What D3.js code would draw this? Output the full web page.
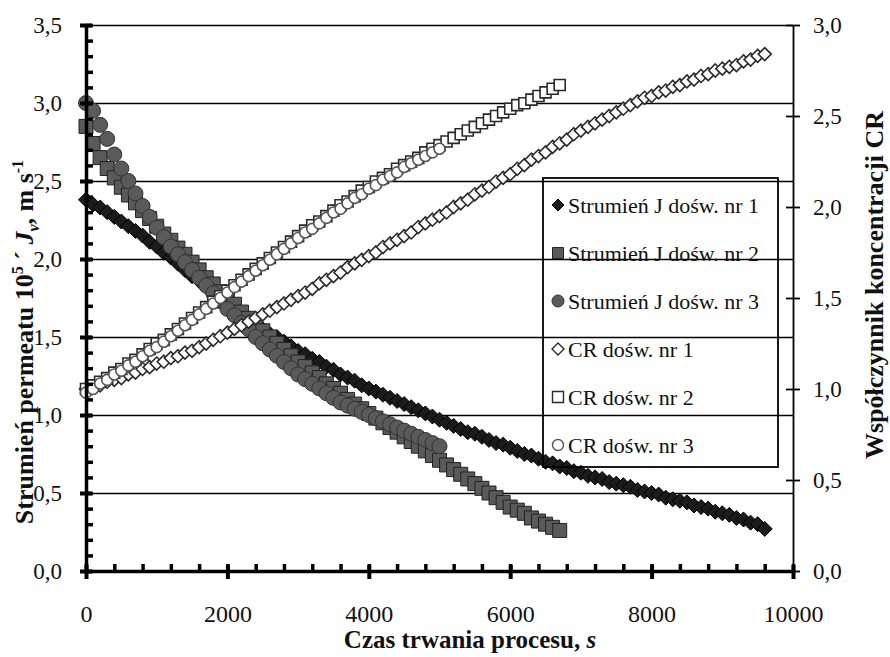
<!DOCTYPE html>
<html>
<head>
<meta charset="utf-8">
<script src="https://cdn.jsdelivr.net/npm/d3@7"></script>
<style>
  body { margin: 0; background: #fff; }
  svg { display: block; font-family: "Liberation Serif", "Times New Roman", serif; }
</style>
</head>
<body>
<script>
// logging interval of the measurements, s
var sampleStep = 100;

// permeate flux J, 10^5 m/s (left axis)
var flux1 = [2.38, 2.35, 2.33, 2.30, 2.27, 2.24, 2.21, 2.18, 2.15, 2.11,
  2.08, 2.04, 2.01, 1.97, 1.93, 1.89, 1.86, 1.82, 1.79, 1.75,
  1.72, 1.68, 1.65, 1.62, 1.59, 1.55, 1.52, 1.50, 1.47, 1.44,
  1.41, 1.39, 1.36, 1.34, 1.31, 1.29, 1.26, 1.24, 1.22, 1.19,
  1.17, 1.15, 1.13, 1.11, 1.09, 1.07, 1.05, 1.03, 1.01, 0.99,
  0.97, 0.95, 0.93, 0.91, 0.89, 0.88, 0.86, 0.84, 0.82, 0.81,
  0.79, 0.77, 0.75, 0.74, 0.72, 0.70, 0.69, 0.67, 0.66, 0.64,
  0.63, 0.61, 0.60, 0.59, 0.57, 0.56, 0.55, 0.54, 0.52, 0.51,
  0.50, 0.49, 0.47, 0.46, 0.45, 0.44, 0.42, 0.41, 0.40, 0.38,
  0.37, 0.36, 0.34, 0.33, 0.31, 0.30, 0.27];

var flux2 = [2.85, 2.74, 2.65, 2.58, 2.52, 2.46, 2.41, 2.36, 2.31, 2.26,
  2.21, 2.16, 2.12, 2.07, 2.03, 1.98, 1.93, 1.88, 1.84, 1.79,
  1.75, 1.71, 1.66, 1.62, 1.58, 1.54, 1.50, 1.46, 1.42, 1.38,
  1.34, 1.31, 1.27, 1.24, 1.20, 1.17, 1.14, 1.10, 1.07, 1.04,
  1.01, 0.98, 0.95, 0.92, 0.89, 0.86, 0.83, 0.80, 0.77, 0.74,
  0.71, 0.68, 0.65, 0.62, 0.59, 0.56, 0.53, 0.50, 0.47, 0.44,
  0.41, 0.39, 0.37, 0.34, 0.32, 0.30, 0.28, 0.26];

var flux3 = [3.00, 2.95, 2.86, 2.77, 2.67, 2.58, 2.50, 2.42, 2.34, 2.27,
  2.20, 2.14, 2.08, 2.03, 1.98, 1.93, 1.88, 1.83, 1.78, 1.73,
  1.68, 1.64, 1.59, 1.55, 1.50, 1.46, 1.42, 1.38, 1.34, 1.30,
  1.26, 1.23, 1.20, 1.17, 1.14, 1.11, 1.08, 1.06, 1.04, 1.02,
  1.00, 0.98, 0.96, 0.94, 0.92, 0.90, 0.88, 0.86, 0.84, 0.82,
  0.80];

// concentration ratio CR (right axis)
var cr1 = [1.00, 1.01, 1.02, 1.04, 1.05, 1.06, 1.08, 1.09, 1.11, 1.12,
  1.14, 1.15, 1.17, 1.18, 1.20, 1.21, 1.23, 1.25, 1.27, 1.29,
  1.31, 1.33, 1.35, 1.37, 1.39, 1.41, 1.43, 1.45, 1.47, 1.49,
  1.51, 1.53, 1.55, 1.58, 1.60, 1.62, 1.64, 1.67, 1.69, 1.71,
  1.73, 1.75, 1.78, 1.80, 1.82, 1.84, 1.86, 1.89, 1.91, 1.93,
  1.95, 1.97, 2.00, 2.02, 2.04, 2.07, 2.09, 2.11, 2.14, 2.16,
  2.18, 2.21, 2.23, 2.26, 2.28, 2.30, 2.33, 2.35, 2.37, 2.40,
  2.42, 2.44, 2.46, 2.48, 2.50, 2.52, 2.54, 2.56, 2.58, 2.60,
  2.61, 2.63, 2.64, 2.66, 2.67, 2.69, 2.70, 2.72, 2.73, 2.75,
  2.76, 2.77, 2.78, 2.80, 2.81, 2.83, 2.84];

var cr2 = [1.00, 1.02, 1.04, 1.06, 1.09, 1.11, 1.14, 1.16, 1.19, 1.22,
  1.25, 1.27, 1.30, 1.33, 1.36, 1.39, 1.42, 1.45, 1.48, 1.51,
  1.54, 1.57, 1.60, 1.63, 1.66, 1.69, 1.72, 1.75, 1.78, 1.81,
  1.84, 1.87, 1.90, 1.92, 1.95, 1.98, 2.01, 2.03, 2.06, 2.09,
  2.11, 2.14, 2.16, 2.18, 2.21, 2.23, 2.25, 2.27, 2.30, 2.32,
  2.34, 2.36, 2.38, 2.40, 2.42, 2.44, 2.46, 2.48, 2.50, 2.52,
  2.54, 2.56, 2.57, 2.59, 2.61, 2.63, 2.65, 2.67];

var cr3 = [0.98, 1.00, 1.03, 1.05, 1.08, 1.10, 1.13, 1.15, 1.18, 1.21,
  1.23, 1.26, 1.29, 1.32, 1.35, 1.38, 1.41, 1.44, 1.47, 1.50,
  1.53, 1.56, 1.59, 1.62, 1.65, 1.68, 1.71, 1.74, 1.77, 1.80,
  1.83, 1.86, 1.88, 1.91, 1.94, 1.97, 1.99, 2.02, 2.05, 2.07,
  2.10, 2.12, 2.15, 2.17, 2.19, 2.22, 2.24, 2.26, 2.28, 2.30,
  2.32];

var leftTicks = [0, 0.5, 1.0, 1.5, 2.0, 2.5, 3.0, 3.5];
var rightTicks = [0, 0.5, 1.0, 1.5, 2.0, 2.5, 3.0];
var timeTicks = [0, 2000, 4000, 6000, 8000, 10000];
var legendLabels = ["Strumień J dośw. nr 1", "Strumień J dośw. nr 2", "Strumień J dośw. nr 3",
  "CR dośw. nr 1", "CR dośw. nr 2", "CR dośw. nr 3"];

// Define SVG area dimensions
var svgWidth = 890;
var svgHeight = 657;

var chartMargin = { top: 25, right: 97, bottom: 86, left: 86 };
var chartWidth = svgWidth - chartMargin.left - chartMargin.right;
var chartHeight = svgHeight - chartMargin.top - chartMargin.bottom;

var svg = d3.select("body")
  .append("svg")
  .attr("width", svgWidth)
  .attr("height", svgHeight);

var chartGroup = svg.append("g")
  .attr("transform", `translate(${chartMargin.left}, ${chartMargin.top})`);

var xScale = d3.scaleLinear().domain([0, 10000]).range([0, chartWidth]);
var yLeft = d3.scaleLinear().domain([0, 3.5]).range([chartHeight, 0]);
var yRight = d3.scaleLinear().domain([0, 3.0]).range([chartHeight, 0]);

var comma = d => d.toFixed(1).replace(".", ",");

// horizontal gridlines from the left axis
chartGroup.append("g")
  .attr("class", "grid")
  .call(d3.axisLeft(yLeft).tickValues(leftTicks).tickSize(-chartWidth).tickFormat(""))
  .call(g => g.select(".domain").remove())
  .call(g => g.selectAll(".tick line").attr("stroke", "#000").attr("stroke-width", 1.5));

function markerPath(shape, r) {
  if (shape === "diamond") return `M0,${-r}L${r},0L0,${r}L${-r},0Z`;
  if (shape === "square") return `M${-r},${-r}h${2 * r}v${2 * r}h${-2 * r}Z`;
  return d3.arc()({ innerRadius: 0, outerRadius: r, startAngle: 0, endAngle: 2 * Math.PI });
}

var series = [
  { values: flux1, y: yLeft, shape: "diamond", r: 7.5, fill: "#1b1b1b", stroke: "#000", sw: 1, lr: 6 },
  { values: flux2, y: yLeft, shape: "square", r: 7, fill: "#5a5a5a", stroke: "#222", sw: 1, lr: 5.5 },
  { values: flux3, y: yLeft, shape: "circle", r: 7.5, fill: "#5a5a5a", stroke: "#333", sw: 1, lr: 6 },
  { values: cr1, y: yRight, shape: "diamond", r: 6.5, fill: "#fff", stroke: "#2a2a2a", sw: 1.6, lr: 6 },
  { values: cr2, y: yRight, shape: "square", r: 5.5, fill: "#fff", stroke: "#2a2a2a", sw: 1.6, lr: 5.5 },
  { values: cr3, y: yRight, shape: "circle", r: 5.5, fill: "#fff", stroke: "#555", sw: 1.6, lr: 5.5 }
];

series.forEach(function (s) {
  var pts = s.values.map((v, i) => ({ t: i * sampleStep, v: v }));
  chartGroup.append("g")
    .selectAll("path")
    .data(pts)
    .enter()
    .append("path")
    .attr("transform", d => `translate(${xScale(d.t)},${s.y(d.v)})`)
    .attr("d", markerPath(s.shape, s.r))
    .attr("fill", s.fill)
    .attr("stroke", s.stroke)
    .attr("stroke-width", s.sw);
});

// left axis: minor ticks inside, major ticks crossing
chartGroup.append("g")
  .call(d3.axisRight(yLeft).tickValues(d3.range(0, 36).map(i => i / 10)).tickSize(7).tickFormat(""))
  .call(g => g.select(".domain").remove())
  .call(g => g.selectAll(".tick line").attr("stroke", "#000").attr("stroke-width", 3.5));

chartGroup.append("g")
  .call(d3.axisLeft(yLeft).tickValues(leftTicks).tickFormat(comma).tickSize(0).tickPadding(24))
  .call(g => g.select(".domain").attr("stroke", "#000").attr("stroke-width", 3.5))
  .call(g => g.selectAll(".tick line").attr("x1", -6).attr("x2", 6).attr("stroke", "#000").attr("stroke-width", 4))
  .call(g => g.selectAll(".tick text").attr("font-family", "Liberation Serif").attr("font-size", 23).attr("fill", "#111"));

// bottom axis
chartGroup.append("g")
  .attr("transform", `translate(0,${chartHeight})`)
  .call(d3.axisTop(xScale).tickValues(d3.range(0, 10001, 400)).tickSize(7).tickFormat(""))
  .call(g => g.select(".domain").remove())
  .call(g => g.selectAll(".tick line").attr("stroke", "#000").attr("stroke-width", 3.5));

chartGroup.append("g")
  .attr("transform", `translate(0,${chartHeight})`)
  .call(d3.axisBottom(xScale).tickValues(timeTicks).tickFormat(d3.format("d")).tickSize(0).tickPadding(34))
  .call(g => g.select(".domain").attr("stroke", "#000").attr("stroke-width", 3.5))
  .call(g => g.selectAll(".tick line").attr("y1", -6).attr("y2", 8).attr("stroke", "#000").attr("stroke-width", 4))
  .call(g => g.selectAll(".tick text").attr("font-family", "Liberation Serif").attr("font-size", 24).attr("fill", "#111"));

// right axis
chartGroup.append("g")
  .attr("transform", `translate(${chartWidth},0)`)
  .call(d3.axisRight(yRight).tickValues(rightTicks).tickFormat(comma).tickSize(0).tickPadding(20))
  .call(g => g.select(".domain").attr("stroke", "#000").attr("stroke-width", 1.8))
  .call(g => g.selectAll(".tick line").attr("x1", -7).attr("x2", 7).attr("stroke", "#000").attr("stroke-width", 1.8))
  .call(g => g.selectAll(".tick text").attr("font-family", "Liberation Serif").attr("font-size", 23).attr("fill", "#111"));

// legend (no fill, gridlines show through)
var legend = svg.append("g").attr("transform", "translate(543,178)");
legend.append("rect")
  .attr("width", 235).attr("height", 289)
  .attr("fill", "none").attr("stroke", "#000").attr("stroke-width", 1.8);

legendLabels.forEach(function (label, i) {
  var s = series[i];
  var row = legend.append("g").attr("transform", `translate(15,${27 + i * 48})`);
  row.append("path")
    .attr("d", markerPath(s.shape, s.lr))
    .attr("fill", s.fill)
    .attr("stroke", s.stroke)
    .attr("stroke-width", i < 3 ? 1 : 1.4);
  row.append("text")
    .attr("x", 10).attr("dy", "0.35em")
    .attr("font-size", 22).attr("fill", "#111")
    .text(label);
});

// axis titles
var leftTitle = svg.append("text")
  .attr("transform", "translate(33,342) rotate(-90)")
  .attr("text-anchor", "middle")
  .attr("font-weight", "bold").attr("font-size", 26).attr("fill", "#111");
leftTitle.append("tspan").text("Strumień permeatu 10");
leftTitle.append("tspan").attr("font-size", 16).attr("dy", -10).text("5");
leftTitle.append("tspan").attr("dy", 10).text(" ´ ");
leftTitle.append("tspan").attr("font-style", "italic").text("J");
leftTitle.append("tspan").attr("font-size", 16).attr("font-style", "italic").attr("dy", 6).text("v");
leftTitle.append("tspan").attr("dy", -6).text(", m s");
leftTitle.append("tspan").attr("font-size", 16).attr("dy", -10).text("-1");

svg.append("text")
  .attr("transform", "translate(883,285) rotate(-90)")
  .attr("text-anchor", "middle")
  .attr("font-weight", "bold").attr("font-size", 26).attr("fill", "#111")
  .text("Współczynnik koncentracji CR");

var xTitle = svg.append("text")
  .attr("x", 470).attr("y", 648)
  .attr("text-anchor", "middle")
  .attr("font-weight", "bold").attr("font-size", 25).attr("fill", "#111");
xTitle.append("tspan").text("Czas trwania procesu, ");
xTitle.append("tspan").attr("font-style", "italic").text("s");
</script>
</body>
</html>
